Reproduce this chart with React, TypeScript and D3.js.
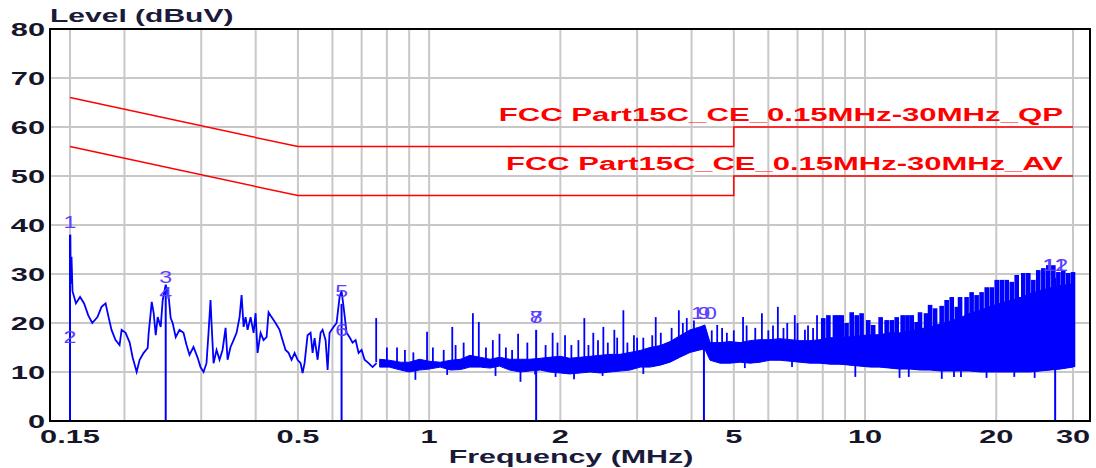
import React from "react";
import * as d3 from "d3";

// ---------- data ----------
const yTicks = [0, 10, 20, 30, 40, 50, 60, 70, 80];
const xTickLabels = [0.15, 0.5, 1, 2, 5, 10, 20, 30];
const xGrid = [0.15, 0.2, 0.3, 0.4, 0.5, 0.6, 0.7, 0.8, 0.9, 1, 2, 3, 4, 5, 6, 7, 8, 9, 10, 20, 30];

const qpLimitFreq = [0.15, 0.5, 5, 5, 30];
const qpLimitLevel = [66, 56, 56, 60, 60];
const avLimitFreq = [0.15, 0.5, 5, 5, 30];
const avLimitLevel = [56, 46, 46, 50, 50];
const qpLimitName = "FCC Part15C_CE_0.15MHz-30MHz_QP";
const avLimitName = "FCC Part15C_CE_0.15MHz-30MHz_AV";

// low-frequency trace (MHz, dBuV)
const lowFreq = [0.15, 0.1503, 0.1506, 0.1512, 0.152, 0.1548, 0.1582, 0.1616, 0.1651, 0.1687, 0.1734, 0.1772, 0.181, 0.1839, 0.1868, 0.1908, 0.1949, 0.197, 0.2012, 0.2056, 0.2088, 0.2133, 0.2167, 0.2214, 0.2261, 0.2273, 0.2297, 0.231, 0.2334, 0.2359, 0.2384, 0.2422, 0.2448, 0.2487, 0.2527, 0.2553, 0.258, 0.2622, 0.2675, 0.2732, 0.2776, 0.282, 0.288, 0.2942, 0.2989, 0.3037, 0.3085, 0.3118, 0.3151, 0.3168, 0.3202, 0.3253, 0.3305, 0.3358, 0.3412, 0.3448, 0.3503, 0.3559, 0.3616, 0.3674, 0.3713, 0.3753, 0.3792, 0.3833, 0.3894, 0.3956, 0.3998, 0.404, 0.4105, 0.417, 0.4237, 0.4282, 0.435, 0.4443, 0.4538, 0.4611, 0.4684, 0.4759, 0.4835, 0.4913, 0.4991, 0.5071, 0.5125, 0.5179, 0.5262, 0.5346, 0.5403, 0.546, 0.5548, 0.5636, 0.5696, 0.5787, 0.5849, 0.591, 0.6036, 0.6133, 0.6231, 0.6297, 0.6364, 0.6466, 0.6569, 0.6674, 0.6781, 0.6889, 0.6999, 0.7111, 0.7263, 0.7418, 0.7577];
const lowLevel = [30, 38, 28, 33.5, 26.5, 24, 25.3, 24, 21.6, 20, 21.2, 23.3, 24, 21.2, 18.6, 16.5, 15.5, 18.6, 18, 16, 13, 10, 12.5, 13.9, 14.9, 18, 22, 24.3, 22, 17.5, 21.2, 19.2, 24.7, 27.8, 25.3, 21, 20, 17.1, 18.6, 18, 15.5, 13.5, 15.1, 13, 11, 10, 11.8, 18, 24.7, 20, 11.8, 14.5, 12.5, 14.5, 19, 12.5, 15.1, 16.5, 18, 21.2, 25.7, 19.2, 21.2, 18.6, 21.2, 18, 22, 13.9, 18, 16.5, 17.1, 22.2, 21.2, 20, 18.6, 16.5, 14.5, 13.9, 12.5, 13.9, 12.5, 11.8, 9.8, 11.8, 17.5, 18, 13.9, 16.9, 12.5, 18, 18.6, 16.5, 10.4, 18, 19.2, 20, 25.3, 26.5, 23.3, 18, 17.1, 16, 16.5, 13.9, 14.5, 12.5, 11.8, 11, 11.8];

// noise body above 0.77 MHz (MHz, floor dBuV, top dBuV)
const bandFreq = [0.77, 0.81, 0.86, 0.9, 0.95, 1.0, 1.06, 1.12, 1.18, 1.24, 1.31, 1.38, 1.45, 1.53, 1.62, 1.7, 1.8, 1.89, 2.0, 2.1, 2.22, 2.34, 2.47, 2.6, 2.74, 2.89, 3.05, 3.21, 3.39, 3.57, 3.76, 3.97, 4.18, 4.29, 4.41, 4.65, 4.9, 5.17, 5.45, 5.74, 6.05, 6.38, 6.73, 7.09, 7.48, 7.88, 8.31, 8.76, 9.24, 9.74, 10.3, 10.8, 11.4, 12.0, 12.7, 13.4, 14.1, 14.9, 15.7, 16.5, 17.4, 18.4, 19.4, 20.4, 21.5, 22.7, 23.9, 25.2, 26.6, 28.0, 30.0];
const bandLow = [11, 11, 10.4, 10, 10.4, 10.6, 11, 10.4, 10.5, 11, 11, 10.8, 11.2, 10.4, 10, 10.2, 10.4, 10, 9.8, 9.6, 9.8, 10, 9.8, 10, 10.2, 10.4, 11, 11, 11.4, 12, 13, 14, 14.5, 14.7, 12.4, 11.8, 11.8, 12, 11.8, 12, 12.4, 12.4, 12.2, 12, 11.8, 11.8, 11.6, 11.6, 11.4, 11.2, 11, 11, 10.8, 10.6, 10.6, 10.4, 10.4, 10.2, 10.2, 10.2, 10.2, 10, 10, 10, 10, 10, 10, 10.2, 10.4, 10.6, 11];
const bandHigh = [12.6, 12.4, 12, 12, 12.6, 12.2, 12, 12.4, 12.6, 13.4, 13, 12.6, 13, 12.6, 12.6, 12.6, 12.8, 13, 13.2, 12.8, 13, 13.2, 13.4, 13.6, 13.6, 14, 14.4, 15, 15.4, 16.2, 17.4, 18.6, 19.2, 19.6, 16, 16, 16.2, 16, 16.4, 16.6, 16.6, 16.8, 16.6, 16.4, 16.4, 16.6, 17, 17, 17.2, 17.4, 17.6, 17.6, 18, 18, 18.4, 18.8, 19.2, 19.8, 20.4, 21, 22, 22.6, 23.4, 24, 24.6, 25.2, 26, 26.6, 27.2, 27.6, 28];

// isolated peaks between 0.75 and 8 MHz
const spikeFreq = [0.756, 0.844, 0.989, 1.13, 1.26, 1.3, 1.45, 1.6, 1.92, 2.05, 2.27, 2.38, 2.51, 2.66, 2.79, 3.0, 3.25, 3.31, 3.55, 3.74, 3.9, 4.58, 4.82, 5.25, 5.8, 6.31, 6.63, 6.9, 7.28, 7.76];
const spikeLevel = [21, 15, 18.2, 19.2, 22, 20.2, 17.8, 17.8, 18, 17.5, 21, 18, 19.2, 18.6, 22.6, 17, 17.5, 21.2, 16.1, 22.6, 21, 19.6, 18, 21.2, 22, 23.3, 20, 21.6, 18.6, 21.6];

// small peaks on the noise body
const minorFreq = [0.8, 0.88, 0.92, 1.02, 1.08, 1.15, 1.2, 1.35, 1.4, 1.5, 1.55, 1.68, 1.85, 1.97, 2.12, 2.2, 2.32, 2.44, 2.57, 2.7, 2.85, 2.95, 3.1, 3.4, 3.6, 3.82, 4.05, 4.45, 4.7, 5.0, 5.35, 5.6, 6.0, 6.15, 6.5, 7.0, 7.4, 7.6];
const minorLevel = [15, 14.5, 14, 15, 14.5, 15.5, 16, 15, 16.5, 15, 14.5, 16, 15.5, 16, 15.5, 16.5, 15.5, 16.5, 16, 17, 16, 17.5, 17, 18, 19, 20, 20.5, 18.5, 19, 18.5, 19.5, 19, 18.5, 19.5, 19, 20, 19.5, 19];

// dense peaks 8 - 30 MHz
const denseFreq = [8.02, 8.24, 8.53, 8.68, 8.84, 9.07, 9.32, 9.57, 9.82, 10.17, 10.44, 10.86, 11.21, 11.52, 11.82, 12.2, 12.51, 12.8, 13.13, 13.37, 13.8, 14.1, 14.48, 14.99, 15.39, 15.81, 16.24, 16.52, 17.1, 17.56, 18.03, 18.51, 19.02, 19.53, 20.05, 20.59, 21.14, 21.71, 22.28, 22.67, 23.07, 23.69, 24.33, 24.97, 25.65, 26.33, 27.04, 27.77, 28.5, 29.26, 30.0];
const denseLevel = [21, 21.6, 21.6, 21.6, 21.6, 20, 22.2, 21.6, 22, 20.6, 19.6, 21.2, 20.6, 20.6, 21.2, 21.6, 21.6, 21.6, 20.2, 22.2, 22, 23.7, 23, 23.5, 24.7, 25.3, 23.3, 25.3, 25.3, 26.3, 25.7, 26.3, 27.3, 27.3, 28.8, 28.8, 28.8, 28.4, 29.8, 25.3, 30.2, 30.2, 28.8, 30.8, 31.2, 31.8, 31.8, 30.4, 30.8, 30.2, 30.4];

// downward dips
const dipFreq = [0.93, 1.1, 1.42, 1.62, 1.75, 1.95, 2.15, 2.5, 3.1, 5.3, 6.8, 9.5, 12.0, 12.6, 15.0, 16.0, 16.6, 19.0, 22.0, 24.5];
const dipLevel = [8.4, 9.4, 9.2, 8, 9.5, 9, 8.5, 9.2, 9.6, 10.8, 11, 9, 8.8, 9, 8.6, 9, 9, 8.8, 9, 8.8];

// markers
const markerNo = ["1", "2", "3", "4", "5", "6", "7", "8", "9", "10", "11", "12"];
const markerFreq = [0.15, 0.15, 0.2487, 0.2487, 0.6297, 0.6297, 1.76, 1.76, 4.27, 4.27, 27.3, 27.3];
const markerLevel = [38.0, 14.5, 26.7, 23.5, 23.9, 16, 18.6, 18.6, 19.4, 19.4, 29.2, 29.2];

// ---------- layout ----------
const W = 1096;
const H = 468;
const left = 50, right = 1090, top = 29, bottom = 421;
const FONT = "'Liberation Sans', Arial, Helvetica, sans-serif";
const SX = 1.62;

const x = d3.scaleLog().domain([0.15, 30]).range([70, 1073]);
const y = d3.scaleLinear().domain([0, 80]).range([bottom, top]);
const bandLowAt = d3.scaleLog().domain(bandFreq).range(bandLow);
const bandHighAt = d3.scaleLog().domain(bandFreq).range(bandHigh);

const fmt = (v: number) => String(v);

function SText(props: { x: number; y: number; sx?: number; anchor?: string; size: number; weight?: string; fill: string; children: React.ReactNode }) {
  const { sx = SX, anchor = "start", size, weight = "bold", fill, children } = props;
  return (
    <text
      transform={`translate(${props.x},${props.y}) scale(${sx},1)`}
      textAnchor={anchor}
      fontFamily={FONT}
      fontSize={size}
      fontWeight={weight}
      fill={fill}
    >
      {children}
    </text>
  );
}

export default function App() {
  const lowLine = d3
    .line<number>()
    .x((_, i) => x(lowFreq[i]))
    .y((d) => y(d))(lowLevel) as string;

  const bandArea = d3
    .area<number>()
    .x((f) => x(f))
    .y0((_, i) => y(bandLow[i]))
    .y1((_, i) => y(bandHigh[i]))(bandFreq) as string;

  const qpLine = d3
    .line<number>()
    .x((f) => x(f))
    .y((_, i) => y(qpLimitLevel[i]))(qpLimitFreq) as string;
  const avLine = d3
    .line<number>()
    .x((f) => x(f))
    .y((_, i) => y(avLimitLevel[i]))(avLimitFreq) as string;

  const tickColor = "#16162a";
  const markColor = "#5a40ff";

  return (
    <svg
      width={W}
      height={H}
      viewBox={`0 0 ${W} ${H}`}
      style={{ position: "fixed", left: 0, top: 0, background: "#ffffff" }}
    >
      <rect x={0} y={0} width={W} height={H} fill="#ffffff" />
      {/* grid */}
      {xGrid.map((f) => (
        <line key={"gx" + f} x1={x(f)} x2={x(f)} y1={top} y2={bottom} stroke="#c8c8c8" strokeWidth={2} />
      ))}
      {yTicks.slice(1, -1).map((v) => (
        <line key={"gy" + v} x1={left} x2={right} y1={y(v)} y2={y(v)} stroke="#c8c8c8" strokeWidth={2} />
      ))}

      {/* limit lines */}
      <path d={qpLine} fill="none" stroke="#ff0000" strokeWidth={1.5} />
      <path d={avLine} fill="none" stroke="#ff0000" strokeWidth={1.5} />
      <SText x={1063} y={y(60) - 6} anchor="end" size={19} fill="#ff0000" sx={1.64}>{qpLimitName}</SText>
      <SText x={1063} y={y(50) - 6} anchor="end" size={19} fill="#ff0000" sx={1.63}>{avLimitName}</SText>

      {/* trace */}
      <path d={bandArea} fill="#0000ff" stroke="#0000ff" strokeWidth={1} />
      <path d={lowLine} fill="none" stroke="#0000ff" strokeWidth={1.8} strokeLinejoin="miter" />
      {minorFreq.map((f, i) => (
        <line key={"mn" + i} x1={x(f)} x2={x(f)} y1={y(bandLowAt(f) + 1)} y2={y(minorLevel[i])} stroke="#0000ff" strokeWidth={1.8} />
      ))}
      {spikeFreq.map((f, i) => (
        <line key={"sp" + i} x1={x(f)} x2={x(f)} y1={y(bandLowAt(f) + 1)} y2={y(spikeLevel[i])} stroke="#0000ff" strokeWidth={1.8} />
      ))}
      {denseFreq.map((f, i) => (
        <line key={"dn" + i} x1={x(f)} x2={x(f)} y1={y(bandLowAt(f))} y2={y(denseLevel[i])} stroke="#0000ff" strokeWidth={4.6} />
      ))}
      {dipFreq.map((f, i) => (
        <line key={"dp" + i} x1={x(f)} x2={x(f)} y1={y(bandHighAt(f) - 1)} y2={y(dipLevel[i])} stroke="#0000ff" strokeWidth={1.8} />
      ))}

      {/* marker lines */}
      {markerFreq.map((f, i) =>
        i % 2 === 0 ? (
          <line key={"ml" + i} x1={x(f)} x2={x(f)} y1={y(0)} y2={y(markerLevel[i])} stroke="#0000ff" strokeWidth={2} />
        ) : null
      )}
      {markerFreq.map((f, i) => (
        <SText key={"mt" + i} x={x(f)} y={y(markerLevel[i]) - 7} anchor="middle" size={16} weight="normal" sx={1.45} fill={markColor}>
          {markerNo[i]}
        </SText>
      ))}

      {/* frame */}
      <rect x={left} y={top} width={right - left} height={bottom - top} fill="none" stroke="#000000" strokeWidth={2} />

      {/* y tick labels */}
      {yTicks.map((v) => (
        <SText key={"yt" + v} x={45} y={y(v) + 7} anchor="end" size={19} fill={tickColor}>
          {fmt(v)}
        </SText>
      ))}
      {/* x tick labels */}
      {xTickLabels.map((v) => (
        <SText key={"xt" + v} x={x(v)} y={443} anchor="middle" size={19} fill={tickColor}>
          {fmt(v)}
        </SText>
      ))}

      <SText x={50} y={22} size={19} fill="#1a1a3a" sx={1.58}>Level (dBuV)</SText>
      <SText x={571} y={463} anchor="middle" size={19} fill="#1a1a3a" sx={1.6}>Frequency (MHz)</SText>
    </svg>
  );
}
